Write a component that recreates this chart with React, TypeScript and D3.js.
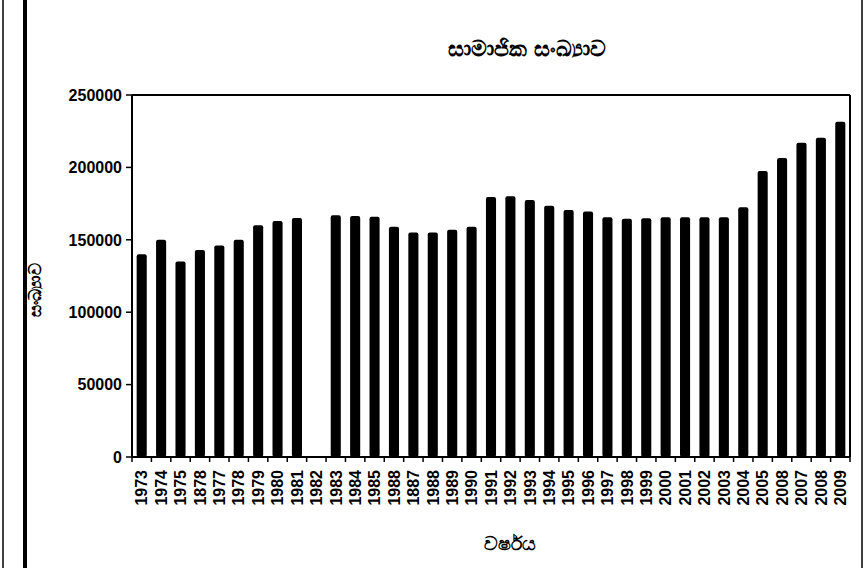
import React from "react";
import * as d3 from "d3";

// years as printed on the chart (labels kept exactly as in the original)
const yearLabels = [
  "1973", "1974", "1975", "1878", "1977", "1978", "1979", "1980", "1981", "1982",
  "1983", "1984", "1985", "1988", "1887", "1988", "1989", "1990", "1991", "1992",
  "1993", "1994", "1995", "1996", "1997", "1998", "1999", "2000", "2001", "2002",
  "2003", "2004", "2005", "2008", "2007", "2008", "2009",
];

// membership count
const memberCounts = [
  140000, 150000, 135000, 143000, 146000, 150000, 160000, 163000, 165000, 0,
  167000, 166500, 166000, 159000, 155000, 155000, 157000, 159000, 179500, 180000,
  177500, 173500, 170500, 169500, 165500, 164500, 164800, 165500, 165500, 165500,
  165500, 172500, 197500, 206500, 217000, 220500, 231500,
];

const yTicks = [0, 50000, 100000, 150000, 200000, 250000];

const titleText = "සාමාජික සංඛ්‍යාව";
const yTitleText = "සංඛ්‍යාව";
const xTitleText = "වර්ෂය";

const W = 866;
const H = 568;
const margin = { top: 95, right: 16, bottom: 111, left: 132 };
const font = "'Liberation Sans', Arial, sans-serif";

export default function App() {
  const innerW = W - margin.left - margin.right;
  const innerH = H - margin.top - margin.bottom;

  const x = d3
    .scaleBand<number>()
    .domain(d3.range(yearLabels.length))
    .range([0, innerW])
    .paddingInner(0.48)
    .paddingOuter(0.24);

  const y = d3.scaleLinear().domain([0, 250000]).range([innerH, 0]);

  const step = x.step();
  const x0 = x.range()[0];

  return (
    <svg
      width={W}
      height={H}
      style={{ position: "fixed", left: 0, top: 0, background: "#fff" }}
      fontFamily={font}
    >
      {/* outer frame lines */}
      <line x1={3} x2={3} y1={0} y2={H} stroke="#000" strokeWidth={1.5} />
      <line x1={25} x2={25} y1={0} y2={H} stroke="#000" strokeWidth={4} />
      <line x1={862} x2={862} y1={0} y2={H} stroke="#000" strokeWidth={1.5} />

      <text x={527} y={56} textAnchor="middle" fontSize={22} fontWeight="bold">
        {titleText}
      </text>

      <g transform={`translate(${margin.left},${margin.top})`}>
        {/* plot area border (top and right) */}
        <line x1={0} x2={innerW} y1={0} y2={0} stroke="#000" strokeWidth={2} />
        <line x1={innerW} x2={innerW} y1={0} y2={innerH} stroke="#000" strokeWidth={2} />

        {memberCounts.map((v, i) =>
          v > 0 ? (
            <rect
              key={i}
              x={x(i)}
              y={y(v)}
              width={x.bandwidth()}
              height={innerH - y(v)}
              rx={2}
              fill="#000"
            />
          ) : null
        )}

        {/* y axis */}
        <line x1={0} x2={0} y1={0} y2={innerH} stroke="#000" strokeWidth={2} />
        {yTicks.map((t) => (
          <g key={t} transform={`translate(0,${y(t)})`}>
            <line x1={-6} x2={0} stroke="#000" strokeWidth={1.5} />
            <text x={-10} dy="0.36em" textAnchor="end" fontSize={16} fontWeight="bold">
              {t}
            </text>
          </g>
        ))}

        {/* x axis */}
        <line x1={0} x2={innerW} y1={innerH} y2={innerH} stroke="#000" strokeWidth={2} />
        {d3.range(yearLabels.length + 1).map((i) => (
          <line
            key={i}
            x1={x0 + i * step}
            x2={x0 + i * step}
            y1={innerH}
            y2={innerH + 5}
            stroke="#000"
            strokeWidth={1.5}
          />
        ))}
        {yearLabels.map((lab, i) => (
          <text
            key={i}
            transform={`translate(${(x(i) ?? 0) + x.bandwidth() / 2},${innerH + 13}) rotate(-90)`}
            textAnchor="end"
            dy="0.36em"
            fontSize={16}
            fontWeight="bold"
          >
            {lab}
          </text>
        ))}
      </g>

      <text
        transform="translate(41,290) rotate(-90)"
        textAnchor="middle"
        fontSize={17}
        fontWeight="bold"
      >
        {yTitleText}
      </text>

      <text x={510} y={550} textAnchor="middle" fontSize={19} fontWeight="bold">
        {xTitleText}
      </text>
    </svg>
  );
}
